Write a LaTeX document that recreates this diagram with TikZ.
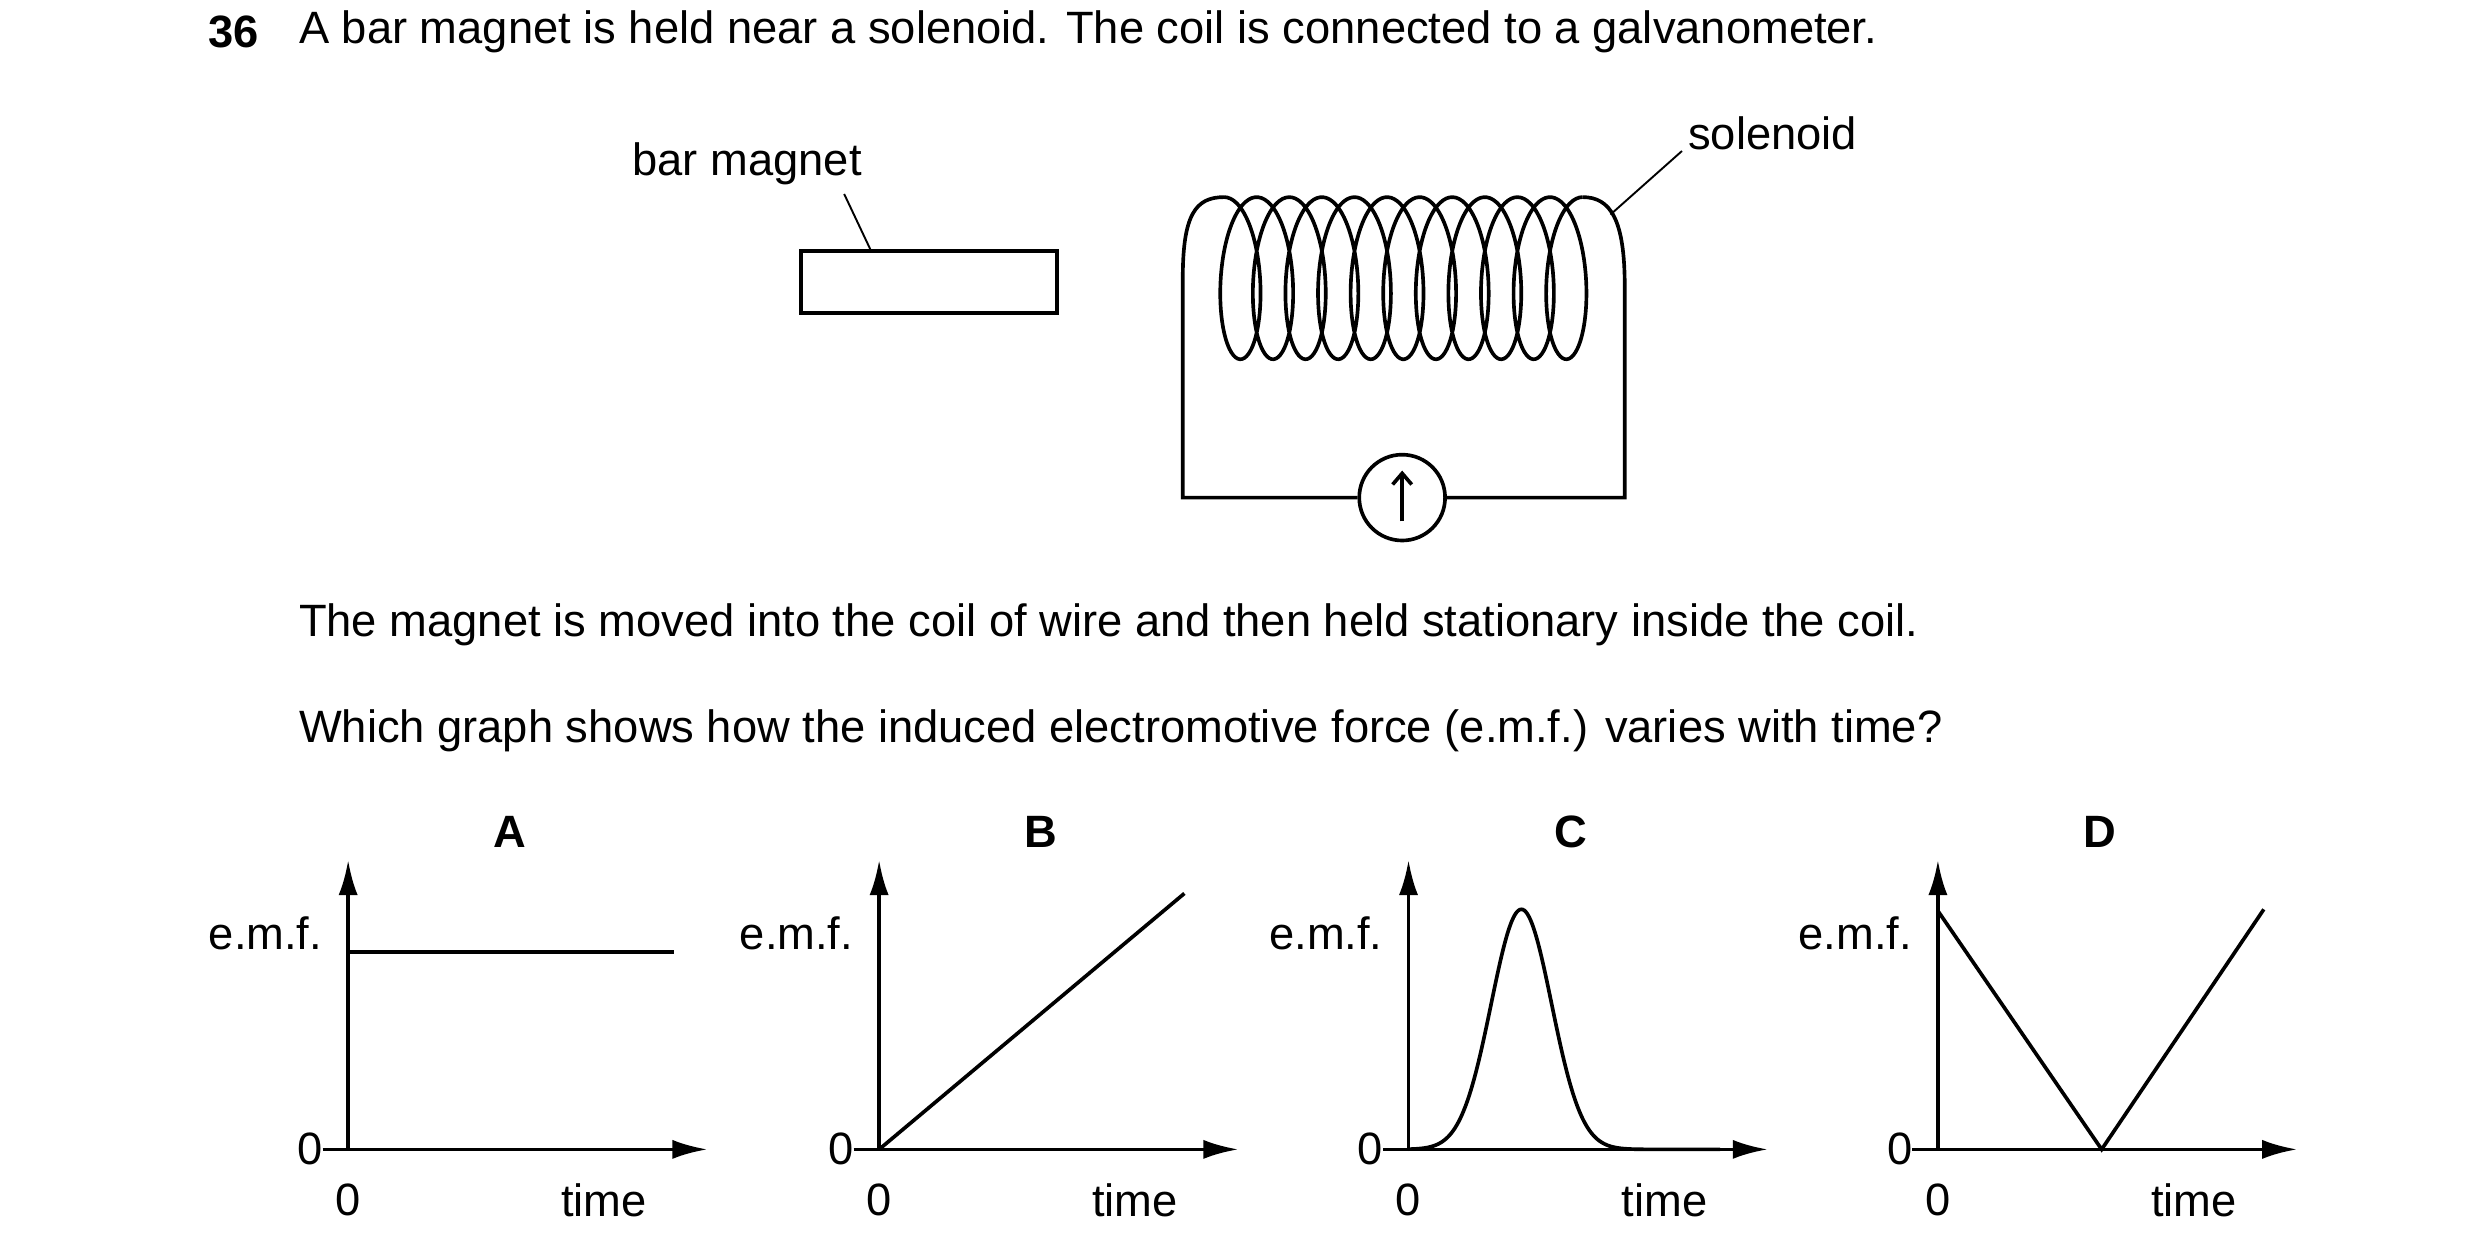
\documentclass[tikz,border=0pt]{standalone}
\usepackage{fontspec}
\setmainfont{Liberation Sans}
\usetikzlibrary{arrows.meta}
\begin{document}
\begin{tikzpicture}[x=1pt,y=-1pt,line width=2.3pt,
  txt/.style={inner sep=0pt,font=\fontsize{28.5}{32}\selectfont},
  ax/.style={line width=2.3pt,-{Latex[length=22pt,width=12pt]}},
  lead/.style={line width=1.2pt}]
\useasboundingbox (0,0) rectangle (1560,786);
\fill[white] (0,0) rectangle (1560,786);
\node[txt,anchor=west,font=\fontsize{28.5}{32}\selectfont\bfseries] (num) at (130,20) {36};
\node[txt,anchor=west] (q1) at (187,20) {A bar magnet is held near a solenoid. The coil is connected to a galvanometer.};
% magnet
\node[draw,line width=2.3pt,minimum width=161pt,minimum height=39pt,inner sep=0pt] (mag) at (584.5,177.5) {};
\node[txt] (lmag) at (470,103) {bar magnet};
\coordinate (m1) at (531,122);
\draw[lead] (m1) -- (548,158);
% solenoid
\node[txt] (lsol) at (1115,84) {solenoid};
\coordinate (s1) at (1058,95);
\draw[lead] (s1) -- (1013,135);
\node[draw,circle,minimum size=54pt,inner sep=0pt,line width=2.3pt] (g) at (882,313) {};
\draw[line width=2.3pt,-{Straight Barb[length=7pt,width=12pt]}] (882,328) -- (882,296);
\coordinate (lb) at (744,313);
\coordinate (rb) at (1022,313);
\draw (g.west) -- (lb) -- (744,175) .. controls (744,135) and (752,124) .. (770,124);
\draw[line join=round] plot[domain=0:69.115,samples=700,variable=\t,smooth] ({770+20.5*\t/6.2832+17.5*sin(\t r)},{175-51*cos(\t r)});
\draw (995.5,124) .. controls (1013,124) and (1022,138) .. (1022,180) -- (rb) -- (g.east);
\node[txt,anchor=west] (q2) at (187,393) {The magnet is moved into the coil of wire and then held stationary inside the coil.};
\node[txt,anchor=west] (q3) at (187,460) {Which graph shows how the induced electromotive force (e.m.f.) varies with time?};
% graphs
\foreach \dx/\L in {0/A,334/B,667/C,1000/D}{
 \begin{scope}[xshift=\dx pt]
  \coordinate (o\L) at (219,723);
  \draw[ax] (o\L) -- (219,541);
  \draw[ax] (203,723) -- (445,723);
  \node[txt,font=\fontsize{28.5}{32}\selectfont\bfseries] (t\L) at (321,523) {\L};
  \node[txt] (e\L) at (167,587) {e.m.f.};
  \node[txt] (z\L) at (195,723) {0};
  \node[txt] (zz\L) at (219,755) {0};
  \node[txt] (ti\L) at (380,755) {time};
 \end{scope}}
\draw (oA) ++(0,-124) coordinate (a1) -- ++(205,0) coordinate (a2);
\draw (oB) -- (745,562) coordinate (b1);
\draw plot[domain=0:196,samples=200,smooth,variable=\u] ({886+\u},{723-151*exp(-((\u-71)^2)/(2*19^2))});
\draw (1219,573) coordinate (d1) -- (1322,723) coordinate (d2) -- (1424,572) coordinate (d3);
\end{tikzpicture}
\end{document}
